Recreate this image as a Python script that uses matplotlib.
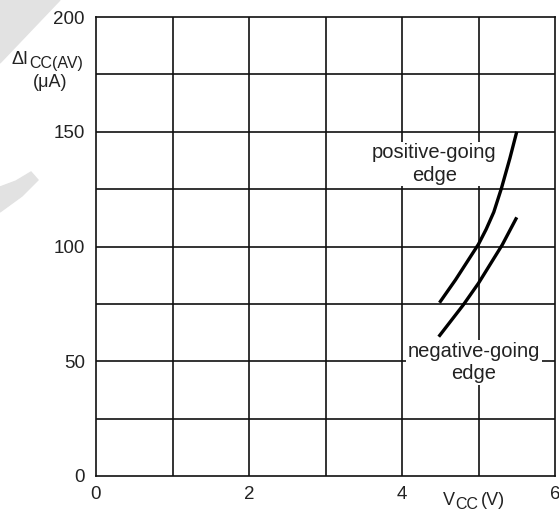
import matplotlib
matplotlib.use("Agg")
import matplotlib.pyplot as plt
from matplotlib.patches import Polygon

# data
pos_x = [4.49, 4.70, 5.00, 5.10, 5.20, 5.30, 5.41, 5.50]
pos_y = [75.5, 85.5, 101.0, 107.5, 115.0, 125.4, 138.4, 150.0]
neg_x = [4.48, 4.80, 5.00, 5.31, 5.50]
neg_y = [60.7, 74.5, 84.0, 100.7, 112.7]
xticks = [0, 2, 4, 6]
yticks = [0, 50, 100, 150, 200]

plt.rcParams['font.family'] = ['Liberation Sans', 'DejaVu Sans']
W, H = 559, 513
fig = plt.figure(figsize=(W/100, H/100), dpi=100)
ax = fig.add_axes([96/W, 1-476/H, (555-96)/W, (476-17)/H])

# watermark-like grey shapes
fig.patches.append(Polygon([(0, 1.0), (60/W, 1.0), (0, 1-63/H)],
                           closed=True, transform=fig.transFigure, color='#e2e2e2', zorder=0))
fig.patches.append(Polygon([(0, 1-187/H), (16/W, 1-181/H), (31/W, 1-172/H), (38/W, 1-180/H),
                            (22/W, 1-196/H), (0, 1-212/H)],
                           closed=True, transform=fig.transFigure, color='#e2e2e2', zorder=0))

ax.set_xlim(0, 6)
ax.set_ylim(0, 200)
for xv in range(1, 6):
    ax.axvline(xv, color='#111111', lw=1.2, zorder=1)
for yv in range(25, 200, 25):
    ax.axhline(yv, color='#111111', lw=1.2, zorder=1)

ax.plot(pos_x, pos_y, color='black', lw=2.4, zorder=3, solid_capstyle='butt')
ax.plot(neg_x, neg_y, color='black', lw=2.4, zorder=3, solid_capstyle='butt')

bbox = dict(facecolor='white', edgecolor='none', pad=1.0)
ax.text(4.42, 136, 'positive-going\nedge', ha='center', va='center', fontsize=14.5,
        linespacing=1.25, bbox=bbox, zorder=2, color='#222222')
ax.text(4.94, 49.5, 'negative-going\nedge', ha='center', va='center', fontsize=14.5,
        linespacing=1.25, bbox=bbox, zorder=2, color='#222222')

for s in ax.spines.values():
    s.set_linewidth(1.2)
    s.set_color('#111111')
ax.set_xticks(xticks)
ax.set_yticks(yticks)
ax.tick_params(length=0, labelsize=13.5, colors='#222222')
ax.tick_params(axis='y', pad=8)
ax.tick_params(axis='x', pad=7)

tc = '#222222'
# y axis label
fig.text(11/W, 1-64/H, 'ΔI', ha='left', va='baseline', fontsize=13, color=tc)
fig.text(29/W, 1-68/H, 'CC(AV)', ha='left', va='baseline', fontsize=11.5, color=tc)
fig.text(50/W, 1-87/H, '(μA)', ha='center', va='baseline', fontsize=13, color=tc)
# x axis label
fig.text(443/W, 1-505/H, 'V', ha='left', va='baseline', fontsize=13, color=tc)
fig.text(455/W, 1-509/H, 'CC', ha='left', va='baseline', fontsize=11.5, color=tc)
fig.text(481/W, 1-505/H, '(V)', ha='left', va='baseline', fontsize=13, color=tc)

fig.savefig('out.png', dpi=100)
